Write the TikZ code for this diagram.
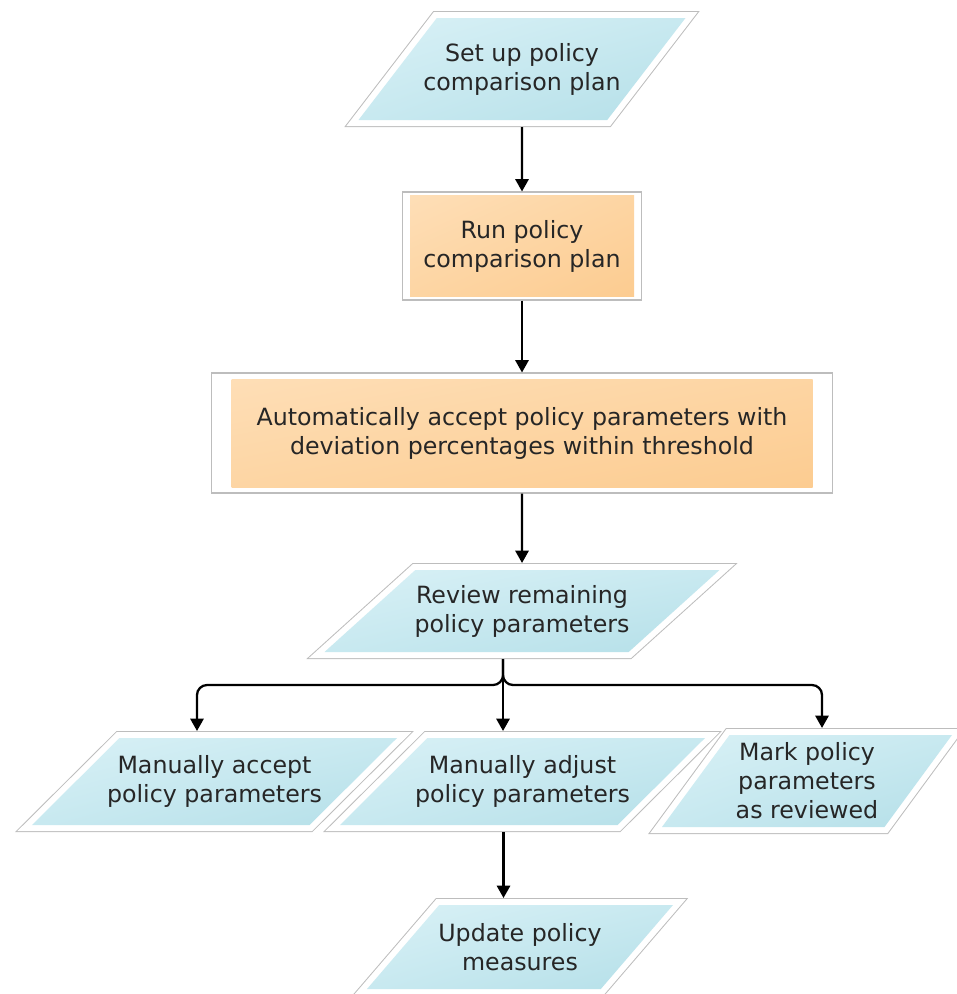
\documentclass[tikz,border=0pt]{standalone}
\usepackage{fontspec}
\setmainfont{DejaVu Sans}
\usetikzlibrary{shapes.geometric, arrows.meta, shadings}
\definecolor{blueA}{HTML}{D9F1F6}
\definecolor{blueB}{HTML}{C8E9F0}
\definecolor{blueC}{HTML}{B4DFE8}
\definecolor{orangeA}{HTML}{FEDFB8}
\definecolor{orangeB}{HTML}{FDD5A3}
\definecolor{orangeC}{HTML}{FCCB8F}
\definecolor{framegray}{HTML}{BDBDBD}
\definecolor{textgray}{HTML}{262626}
\tikzset{inset/.code 2 args={\def\insx{#1}\def\insy{#2}}, inset={0.15cm}{0.07cm}}
\tikzstyle{io} = [trapezium, trapezium stretches body=true, inner xsep=-0.6cm, inner ysep=2pt, outer sep=0.14cm, text=textgray, align=center, preaction={draw=framegray, line width=0.28cm}, preaction={draw=white, line width=0.24cm}, shade, upper left=blueA, upper right=blueB, lower left=blueB, lower right=blueC]
\tikzstyle{process} = [rectangle, draw=framegray, line width=0.6pt, fill=white, text=textgray, align=center, path picture={\shade[upper left=orangeA, upper right=orangeB, lower left=orangeB, lower right=orangeC] ([xshift=\insx, yshift=\insy]path picture bounding box.south west) rectangle ([xshift=-\insx, yshift=-\insy]path picture bounding box.north east);}]
\tikzstyle{arrow} = [line width=1.3pt, -{Triangle[length=7pt, width=7.5pt]}]

\begin{document}
\begin{tikzpicture}[font=\fontsize{13.5}{16.5}\selectfont]
    \useasboundingbox (0,0) rectangle (19.14,-19.88);
    % Nodes
    \node (plan) [io, minimum width=6.54cm, minimum height=2.04cm, trapezium left angle=37, trapezium right angle=143] at (10.44,-1.38) {Set up policy\\comparison plan};
    \node (run) [process, inset={0.15cm}{0.07cm}, minimum width=4.78cm, minimum height=2.16cm] at (10.44,-4.92) {Run policy\\comparison plan};
    \node (auto) [process, inset={0.4cm}{0.12cm}, minimum width=12.42cm, minimum height=2.4cm] at (10.44,-8.66) {Automatically accept policy parameters with\\deviation percentages within threshold};
    \node (review) [io, minimum width=7.9cm, minimum height=1.64cm, trapezium left angle=33, trapezium right angle=147] at (10.44,-12.22) {Review remaining\\policy parameters};
    \node (accept) [io, minimum width=7.3cm, minimum height=1.74cm, trapezium left angle=34, trapezium right angle=146] at (4.29,-15.63) {Manually accept\\policy parameters};
    \node (adjust) [io, minimum width=7.3cm, minimum height=1.74cm, trapezium left angle=34, trapezium right angle=146] at (10.45,-15.63) {Manually adjust\\policy parameters};
    \node (mark) [io, minimum width=5.8cm, minimum height=1.84cm, trapezium left angle=51, trapezium right angle=129] at (16.14,-15.62) {Mark policy\\parameters\\as reviewed};
    \node (update) [io, minimum width=6.12cm, minimum height=1.68cm, trapezium left angle=37, trapezium right angle=143] at (10.4,-18.94) {Update policy\\measures};

    % Arrows
    \draw [arrow] (plan) -- (run);
    \draw [arrow] (run) -- (auto);
    \draw [arrow] (auto) -- (review);
    \coordinate (trunk) at ([xshift=-0.38cm]review.south);
    \coordinate (fork) at ([yshift=-0.52cm]trunk);
    \coordinate (acc-in) at ([xshift=-0.35cm]accept.center);
    \coordinate (mark-in) at ([xshift=0.3cm]mark.center);
    \coordinate (adj-out) at ([xshift=-0.38cm]adjust.south);
    \draw [arrow] (trunk) -- (trunk |- adjust.north);
    \draw [arrow, rounded corners=0.2cm] (trunk) -- (fork) -| (acc-in |- accept.north);
    \draw [arrow, rounded corners=0.2cm] (trunk) -- (fork) -| (mark-in |- mark.north);
    \draw [arrow] (adj-out) -- (adj-out |- update.north);
\end{tikzpicture}
\end{document}
